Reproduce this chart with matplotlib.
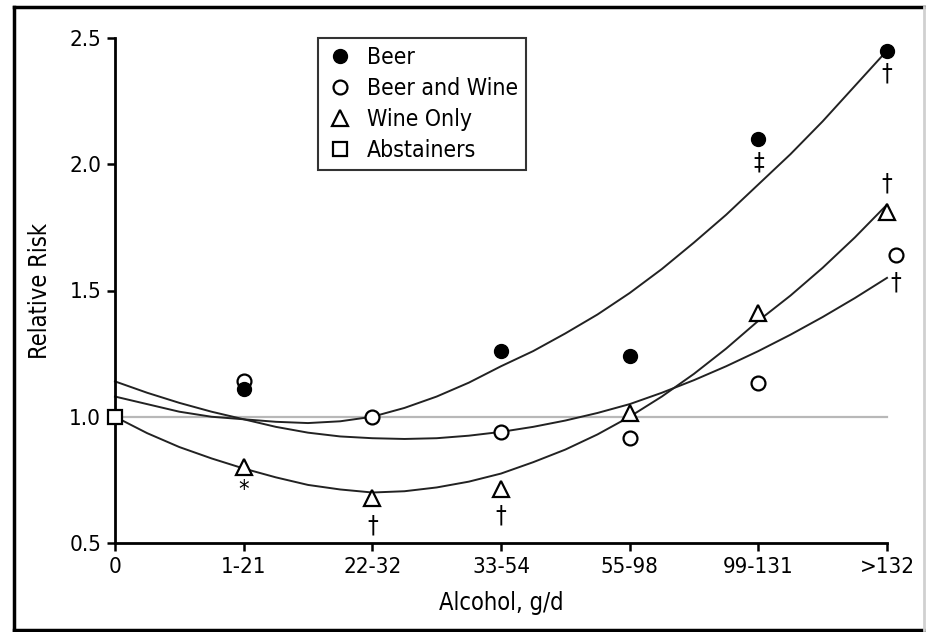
import matplotlib
matplotlib.use("Agg")
import matplotlib.pyplot as plt
from matplotlib.lines import Line2D

# narrow face, as in the original figure
plt.rcParams['font.family'] = ['DejaVu Sans']
plt.rcParams['font.stretch'] = 'condensed'

#-------------------------------------------------------------------------------
# data
#-------------------------------------------------------------------------------

categorias = ['0', '1-21', '22-32', '33-54', '55-98', '99-131', '>132']

beer_x = [1, 3, 4, 5, 6]
beer_rr = [1.11, 1.26, 1.24, 2.10, 2.45]

bw_x = [1, 2, 3, 4, 5, 6]
bw_rr = [1.14, 1.00, 0.94, 0.915, 1.135, 1.64]

wine_x = [1, 2, 3, 4, 5, 6]
wine_rr = [0.80, 0.68, 0.715, 1.015, 1.41, 1.81]

abst_x = [0]
abst_rr = [1.0]

# fitted curves, read every quarter category
curva_x = [0, 0.25, 0.5, 0.75, 1, 1.25, 1.5, 1.75, 2, 2.25, 2.5, 2.75, 3,
           3.25, 3.5, 3.75, 4, 4.25, 4.5, 4.75, 5, 5.25, 5.5, 5.75, 6]
curva_beer = [1.08, 1.05, 1.02, 1.00, 0.99, 0.98, 0.975, 0.982, 1.00, 1.035, 1.08, 1.135, 1.20,
              1.26, 1.33, 1.405, 1.49, 1.585, 1.69, 1.80, 1.92, 2.04, 2.17, 2.31, 2.45]
curva_bw = [1.14, 1.095, 1.055, 1.02, 0.99, 0.96, 0.937, 0.922, 0.915, 0.912, 0.915, 0.925, 0.94,
            0.96, 0.985, 1.015, 1.05, 1.095, 1.145, 1.20, 1.26, 1.325, 1.395, 1.47, 1.55]
curva_wine = [1.0, 0.935, 0.88, 0.835, 0.795, 0.76, 0.73, 0.712, 0.70, 0.705, 0.72, 0.743, 0.775,
              0.82, 0.87, 0.93, 1.0, 1.08, 1.17, 1.27, 1.38, 1.48, 1.59, 1.71, 1.84]

# significance marks: (x, y, text)
marcas = [(5, 2.005, '\u2021'),
          (6, 2.36, '\u2020'),
          (6, 1.925, '\u2020'),
          (6.07, 1.53, '\u2020'),
          (1, 0.71, '*'),
          (2, 0.57, '\u2020'),
          (3, 0.61, '\u2020')]

#-------------------------------------------------------------------------------
#-------------------------------------------------------------------------------

fig = plt.figure(figsize=(9.26, 6.32), dpi=100)
ax = fig.add_axes([115/926, 1-543/632, (887-115)/926, (543-38)/632])

ax.plot([0, 6], [1.0, 1.0], color='#b8b8b8', lw=1.6, zorder=1, clip_on=False)

ax.plot(curva_x, curva_beer, color='#222222', lw=1.4, zorder=2, clip_on=False)
ax.plot(curva_x, curva_bw, color='#222222', lw=1.4, zorder=2, clip_on=False)
ax.plot(curva_x, curva_wine, color='#222222', lw=1.4, zorder=2, clip_on=False)

# B&W point at >132 sits a little to the right in the original
bw_pos = [x + (0.07 if x == 6 else 0) for x in bw_x]

ax.plot(bw_pos, bw_rr, 'o', ms=10, mfc='white', mec='black', mew=1.6,
        ls='none', zorder=3, clip_on=False)
ax.plot(beer_x, beer_rr, 'o', ms=10, mfc='black', mec='black',
        ls='none', zorder=4, clip_on=False)
ax.plot(wine_x, wine_rr, '^', ms=12, mfc='white', mec='black', mew=1.6,
        ls='none', zorder=3, clip_on=False)
ax.plot(abst_x, abst_rr, 's', ms=10, mfc='white', mec='black', mew=1.6,
        ls='none', zorder=5, clip_on=False)

for x, y, t in marcas:
    ax.text(x, y, t, ha='center', va='center', fontsize=17, zorder=6)

#-------------------------------------------------------------------------------
#-------------------------------------------------------------------------------

ax.set_xlim(0, 6)
ax.set_ylim(0.5, 2.5)
ax.set_xticks(range(len(categorias)))
ax.set_xticklabels(categorias)
ax.set_yticks([0.5, 1.0, 1.5, 2.0, 2.5])
ax.set_yticklabels(['0.5', '1.0', '1.5', '2.0', '2.5'])
ax.tick_params(direction='out', length=6, width=1.8, labelsize=16, pad=4)
for s in ['top', 'right']:
    ax.spines[s].set_visible(False)
for s in ['left', 'bottom']:
    ax.spines[s].set_linewidth(2)

ax.set_xlabel('Alcohol, g/d', fontsize=17, labelpad=10)
ax.set_ylabel('Relative Risk', fontsize=17, labelpad=12)

handles = [
    Line2D([], [], marker='o', ls='none', ms=10, mfc='black', mec='black'),
    Line2D([], [], marker='o', ls='none', ms=10, mfc='white', mec='black', mew=1.6),
    Line2D([], [], marker='^', ls='none', ms=11, mfc='white', mec='black', mew=1.6),
    Line2D([], [], marker='s', ls='none', ms=10, mfc='white', mec='black', mew=1.6),
]
leg = ax.legend(handles, ['Beer', 'Beer and Wine', 'Wine Only', 'Abstainers'],
                loc='upper left', bbox_to_anchor=((318-115)/772, 1.0),
                fontsize=16.5, frameon=True, fancybox=False, edgecolor='black',
                borderpad=0.35, labelspacing=0.35, handletextpad=0.6,
                handlelength=1.2, borderaxespad=0)
leg.get_frame().set_linewidth(1.5)

# frame round the figure
fig.add_artist(Line2D([14/926, 14/926], [2/632, 1-7/632], color='black', lw=2.5,
                      transform=fig.transFigure))
fig.add_artist(Line2D([14/926, 924/926], [1-7/632, 1-7/632], color='black', lw=2.5,
                      transform=fig.transFigure))
fig.add_artist(Line2D([14/926, 924/926], [2/632, 2/632], color='black', lw=2.5,
                      transform=fig.transFigure))
fig.add_artist(Line2D([924/926, 924/926], [2/632, 1-7/632], color='#d0d0d0', lw=2,
                      transform=fig.transFigure))

fig.savefig('out.png', dpi=100)
